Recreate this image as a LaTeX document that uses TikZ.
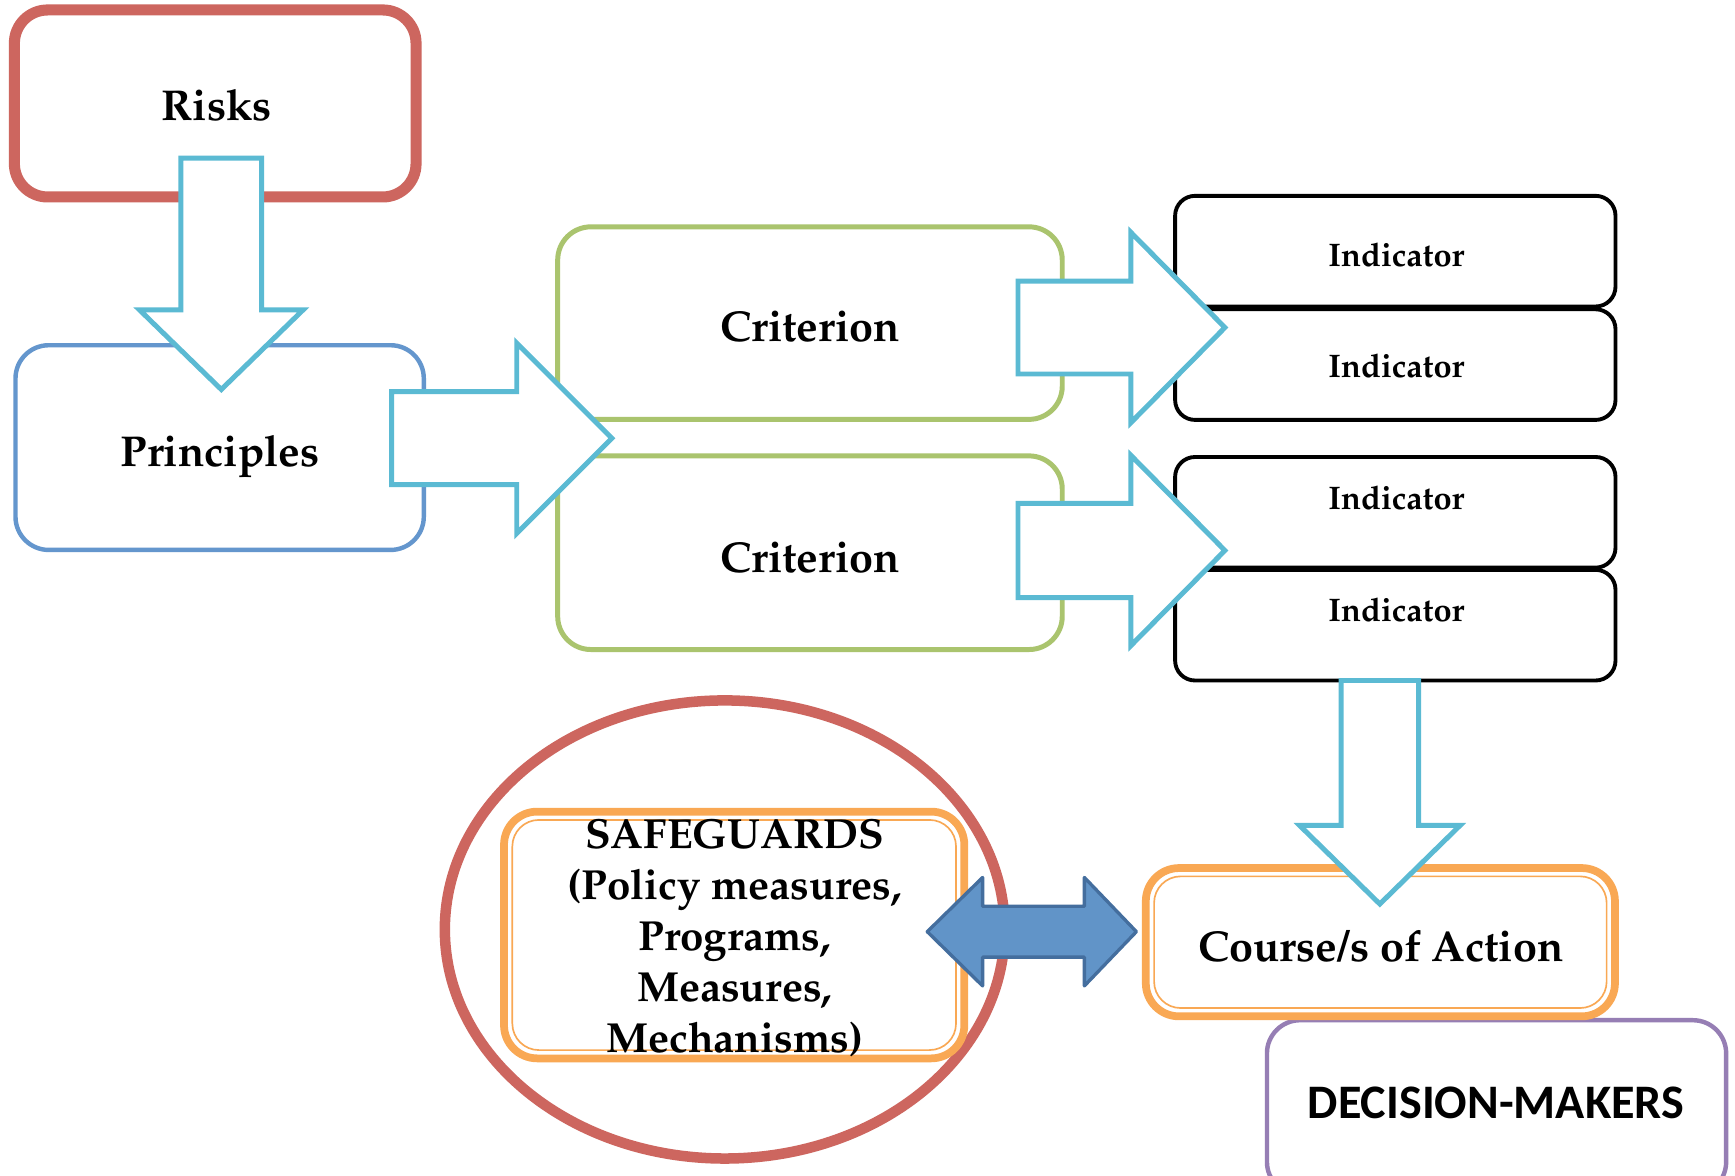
\documentclass[tikz,border=0pt]{standalone}
\usepackage[T1]{fontenc}
\usepackage{fontspec}
\newfontfamily\carlito{Carlito}
\newcommand\palb{\usefont{T1}{ppl}{b}{n}}
\definecolor{riskred}{RGB}{205,102,95}
\definecolor{princblue}{RGB}{100,150,205}
\definecolor{critgreen}{RGB}{170,196,110}
\definecolor{flowcyan}{RGB}{91,186,211}
\definecolor{safeorange}{RGB}{249,168,84}
\definecolor{dmpurple}{RGB}{150,126,180}
\definecolor{linkfill}{RGB}{97,148,200}
\definecolor{linkedge}{RGB}{68,110,158}

% block arrow pointing down: centre x, top y, wing y, tip y, half shaft, half head
\newcommand\blockdown[6]{%
  \draw[flowarrow] (#1-#5,#2) -- (#1+#5,#2) -- (#1+#5,#3) -- (#1+#6,#3)
    -- (#1,#4) -- (#1-#6,#3) -- (#1-#5,#3) -- cycle;}
% block arrow pointing right: centre y, left x, wing x, tip x, half shaft, half head
\newcommand\blockright[6]{%
  \draw[flowarrow] (#2,#1-#5) -- (#3,#1-#5) -- (#3,#1-#6) -- (#4,#1)
    -- (#3,#1+#6) -- (#3,#1+#5) -- (#2,#1+#5) -- cycle;}

\tikzset{
  flowarrow/.style={draw=flowcyan, fill=white, line width=4.5pt, line join=miter},
  panel/.style={draw, fill=white, rounded corners=30pt, inner sep=0pt},
  indbox/.style={draw=black, fill=white, line width=3.5pt, rounded corners=18pt,
    minimum width=398pt, minimum height=100pt, inner sep=0pt},
  bigtext/.style={font=\palb\fontsize{39}{46}\selectfont, anchor=base, inner sep=0pt},
  indtext/.style={font=\palb\fontsize{29.5}{36}\selectfont, anchor=base, inner sep=0pt},
}

\begin{document}
\begin{tikzpicture}[x=1pt,y=-1pt]
\clip (0,0) rectangle (1568,1062);
\fill[white] (0,0) rectangle (1568,1062);

% risks and principles
\node[panel, draw=riskred, line width=10pt, minimum width=363pt, minimum height=169pt] (risks) at (194.5,93.5) {};
\node[bigtext] (risksT) at (196,109) {Risks};
\node[panel, draw=princblue, line width=4pt, minimum width=369pt, minimum height=185pt] (princ) at (198.5,404.5) {};
\node[bigtext] (princT) at (199,422) {Principles};
\blockdown{200}{143}{280}{352}{36.5}{74}

% criteria
\node[panel, draw=critgreen, line width=4.5pt, minimum width=456pt, minimum height=174pt] (crit1) at (732,292) {};
\node[bigtext] (crit1T) at (732,309) {Criterion};
\node[panel, draw=critgreen, line width=4.5pt, minimum width=456pt, minimum height=175pt] (crit2) at (732,499.5) {};
\node[bigtext] (crit2T) at (732,517) {Criterion};
\blockright{396}{354}{467}{553}{42}{86}

% indicators
\node[indbox] (ind1) at (1261,227) {};
\node[indtext] (ind1T) at (1262,240.5) {Indicator};
\node[indbox] (ind2) at (1261,329.5) {};
\node[indtext] (ind2T) at (1262,341.5) {Indicator};
\node[indbox] (ind3) at (1261,463) {};
\node[indtext] (ind3T) at (1262,460.5) {Indicator};
\node[indbox] (ind4) at (1261,565) {};
\node[indtext] (ind4T) at (1262,561.5) {Indicator};
\blockright{296}{920}{1022}{1107}{42}{86}
\blockright{497.5}{920}{1022}{1107}{42.5}{86}

% decision-makers and course of action
\node[panel, draw=dmpurple, line width=4pt, minimum width=415pt, minimum height=158pt] (dm) at (1352.5,1001) {};
\node[anchor=base, inner sep=0pt, font=\carlito\bfseries\fontsize{43.5}{50}\selectfont] (dmT) at (1352,1011) {DECISION-MAKERS};
\node[panel, draw=safeorange, line width=7pt, minimum width=424pt, minimum height=134pt] (course) at (1247.5,851.5) {};
\node[panel, draw=safeorange, line width=1.5pt, rounded corners=24pt, minimum width=409pt, minimum height=119pt] (courseIn) at (course.center) {};
\node[bigtext] (courseT) at (1248,869) {Course/s of Action};
\blockdown{1247}{615}{746}{817}{35}{72.5}

% safeguards
\draw[riskred, line width=9.5pt] (655,840) ellipse [x radius=253, y radius=207];
\node[panel, draw=safeorange, line width=7pt, minimum width=416pt, minimum height=223pt] (safe) at (663.5,845) {};
\node[panel, draw=safeorange, line width=1.5pt, rounded corners=24pt, minimum width=401pt, minimum height=208pt] (safeIn) at (safe.center) {};
\node[align=center, inner sep=0pt, font=\palb\fontsize{38}{46}\selectfont] (safeT) at (664,848)
  {SAFEGUARDS\\(Policy measures,\\Programs,\\Measures,\\Mechanisms)};

% two-way link between safeguards and course of action
\draw[fill=linkfill, draw=linkedge, line width=3pt, line join=round]
  (838,842) -- (888,793) -- (888,819) -- (980,819) -- (980,793) -- (1027,842)
  -- (980,891) -- (980,865) -- (888,865) -- (888,891) -- cycle;
\end{tikzpicture}
\end{document}
